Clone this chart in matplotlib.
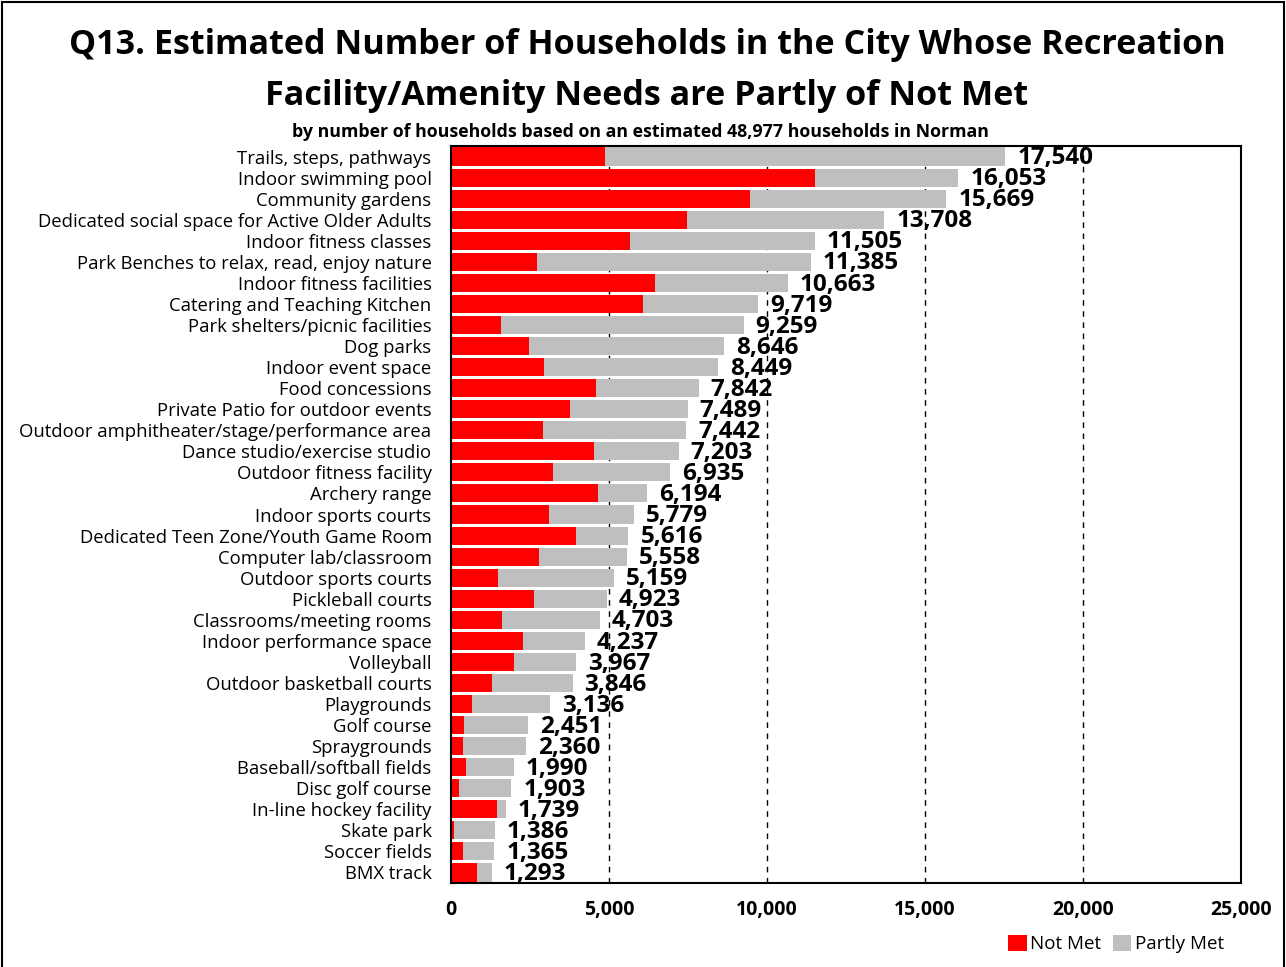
import matplotlib
matplotlib.use("Agg")
import matplotlib.pyplot as plt
from matplotlib.patches import Rectangle

categories = [
    "Trails, steps, pathways", "Indoor swimming pool", "Community gardens",
    "Dedicated social space for Active Older Adults", "Indoor fitness classes",
    "Park Benches to relax, read, enjoy nature", "Indoor fitness facilities",
    "Catering and Teaching Kitchen", "Park shelters/picnic facilities", "Dog parks",
    "Indoor event space", "Food concessions", "Private Patio for outdoor events",
    "Outdoor amphitheater/stage/performance area", "Dance studio/exercise studio",
    "Outdoor fitness facility", "Archery range", "Indoor sports courts",
    "Dedicated Teen Zone/Youth Game Room", "Computer lab/classroom",
    "Outdoor sports courts", "Pickleball courts", "Classrooms/meeting rooms",
    "Indoor performance space", "Volleyball", "Outdoor basketball courts",
    "Playgrounds", "Golf course", "Spraygrounds", "Baseball/softball fields",
    "Disc golf course", "In-line hockey facility", "Skate park", "Soccer fields",
    "BMX track",
]
totals = [17540, 16053, 15669, 13708, 11505, 11385, 10663, 9719, 9259, 8646,
          8449, 7842, 7489, 7442, 7203, 6935, 6194, 5779, 5616, 5558,
          5159, 4923, 4703, 4237, 3967, 3846, 3136, 2451, 2360, 1990,
          1903, 1739, 1386, 1365, 1293]
not_met = [4860, 11530, 9450, 7480, 5650, 2710, 6440, 6090, 1570, 2480,
           2930, 4600, 3780, 2900, 4510, 3240, 4640, 3090, 3970, 2770,
           1500, 2640, 1600, 2290, 1980, 1310, 650, 400, 370, 490,
           240, 1440, 110, 370, 810]
partly_met = [t - n for t, n in zip(totals, not_met)]
x_ticks = [0, 5000, 10000, 15000, 20000, 25000]

RED = "#FF0000"
GRAY = "#BFBFBF"
FONT = ["Open Sans", "DejaVu Sans"]
plt.rcParams["font.family"] = FONT

fig = plt.figure(figsize=(12.86, 9.67), dpi=100)
ax = fig.add_axes([451/1286, 1 - 883/967, (1241-451)/1286, (883-146)/967])

y = list(range(len(categories)))
ax.barh(y, not_met, height=0.86, color=RED, zorder=2, label="Not Met")
ax.barh(y, partly_met, left=not_met, height=0.86, color=GRAY, zorder=2, label="Partly Met")

for yi, t in zip(y, totals):
    ax.text(t + 380, yi + 0.08, f"{t:,}", va="center", ha="left",
            fontsize=17.5, fontweight="bold", zorder=3)

ax.set_ylim(len(categories) - 0.5, -0.5)
ax.set_xlim(0, 25000)
ax.set_yticks(y)
ax.set_yticklabels(categories, fontsize=13.3)
ax.set_xticks(x_ticks)
ax.set_xticklabels([f"{v:,}" for v in x_ticks], fontsize=14, fontweight="bold")
ax.tick_params(axis="y", length=0, pad=14)
ax.tick_params(axis="x", length=0, pad=12)
for v in x_ticks[1:-1]:
    ax.axvline(v, color="black", linestyle=(0, (4, 4)), linewidth=1, zorder=1)
for s in ax.spines.values():
    s.set_linewidth(1.5)
    s.set_color("black")

fig.text(647/1286, 1 - 45/967, "Q13. Estimated Number of Households in the City Whose Recreation",
         ha="center", va="center", fontsize=24.6, fontweight="bold")
fig.text(647/1286, 1 - 96/967, "Facility/Amenity Needs are Partly of Not Met",
         ha="center", va="center", fontsize=24.6, fontweight="bold")
fig.text(640/1286, 1 - 132/967, "by number of households based on an estimated 48,977 households in Norman",
         ha="center", va="center", fontsize=12.8, fontweight="bold")

leg = fig.legend(handles=ax.get_legend_handles_labels()[0], labels=["Not Met", "Partly Met"],
                 loc="center", bbox_to_anchor=(1116/1286, 1 - 944/967), ncol=2, frameon=False,
                 fontsize=13.5, handlelength=1.0, handleheight=1.0, handletextpad=0.2,
                 columnspacing=0.6)

fig.patches.append(Rectangle((2/1286, -0.05), 1282/1286, 1.05 - 2/967, transform=fig.transFigure,
                             fill=False, edgecolor="black", linewidth=1.5))

fig.savefig("out.png", dpi=100)
